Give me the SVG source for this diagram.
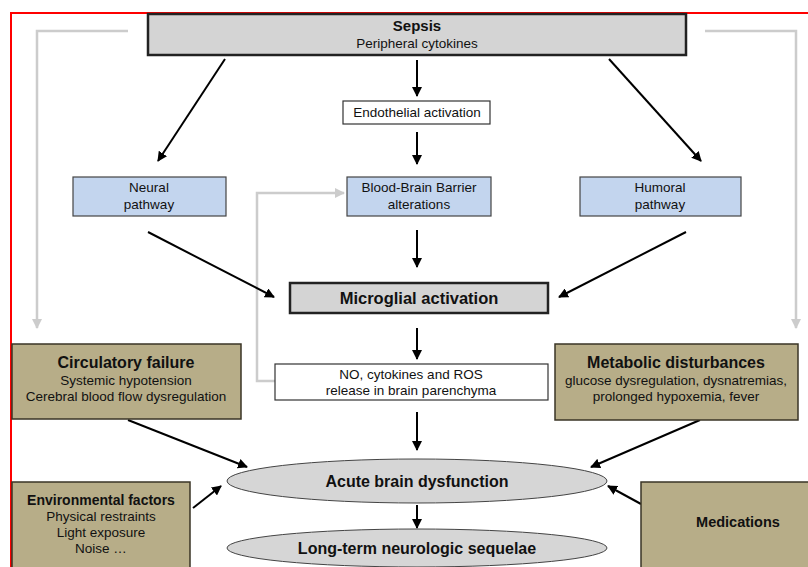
<svg xmlns="http://www.w3.org/2000/svg" width="808" height="567" viewBox="0 0 808 567">
<defs>
<marker id="ah" viewBox="0 0 10 10" refX="9" refY="5" markerWidth="5" markerHeight="5" orient="auto" markerUnits="strokeWidth">
<path d="M0,0 L10,5 L0,10 Z" fill="#000"/>
</marker>
<marker id="ahg" viewBox="0 0 10 10" refX="9" refY="5" markerWidth="4" markerHeight="4" orient="auto" markerUnits="strokeWidth">
<path d="M0,0 L10,5 L0,10 Z" fill="#cccccc"/>
</marker>
</defs>
<style>
text{font-family:"Liberation Sans",Arial,sans-serif;fill:#111;text-anchor:middle;font-size:13.5px}
.b{font-weight:bold;font-size:16px}
.gray{fill:#d4d4d4;stroke:#222;stroke-width:2.5}
.white{fill:#fff;stroke:#333;stroke-width:1.2}
.blue{fill:#c3d5ee;stroke:#444;stroke-width:1.2}
.olive{fill:#b7ad88;stroke:#3a3526;stroke-width:1.5}
.ell{fill:#d6d6d6;stroke:#444;stroke-width:1}
.c line,.c path{stroke:#000;stroke-width:2;fill:none;marker-end:url(#ah)}
.c .g{stroke:#cccccc;stroke-width:2.5;marker-end:url(#ahg)}
</style>
<rect width="808" height="567" fill="#fff"/>
<path d="M11,567 L11,13 L808,13" fill="none" stroke="#ff0000" stroke-width="2"/>
<g class="c" id="connectors">
<path class="g" d="M128,31 L37,31 L37,328"/>
<path class="g" d="M705,31 L796,31 L796,328"/>
<path class="g" d="M275,381 L257,381 L257,193 L344,193"/>
<line x1="417" y1="60" x2="417" y2="96"/>
<line x1="417" y1="132" x2="417" y2="164"/>
<line x1="225" y1="59" x2="158" y2="161"/>
<line x1="609" y1="59" x2="701" y2="161"/>
<line x1="148" y1="232" x2="274" y2="297"/>
<line x1="686" y1="232" x2="559" y2="297"/>
<line x1="417" y1="230" x2="417" y2="267"/>
<line x1="417" y1="328" x2="417" y2="359"/>
<line x1="417" y1="412" x2="417" y2="450"/>
<line x1="128" y1="420" x2="247" y2="467"/>
<line x1="700" y1="420" x2="591" y2="467"/>
<line x1="193" y1="508" x2="221" y2="486"/>
<line x1="641" y1="504" x2="608" y2="486"/>
<line x1="417" y1="505" x2="417" y2="528"/>
</g>
<g id="sepsis">
<rect class="gray" x="148" y="14" width="538" height="41"/>
<text class="b" x="417" y="31" style="font-size:15px">Sepsis</text>
<text x="417" y="48">Peripheral cytokines</text>
</g>
<g id="endothelial">
<rect class="white" x="343" y="101" width="147" height="23"/>
<text x="417" y="117">Endothelial activation</text>
</g>
<g id="neural">
<rect class="blue" x="73" y="177" width="153" height="39"/>
<text x="149" y="192">Neural</text>
<text x="149" y="209">pathway</text>
</g>
<g id="bbb">
<rect class="blue" x="347" y="177" width="144" height="39"/>
<text x="419" y="192">Blood-Brain Barrier</text>
<text x="419" y="209">alterations</text>
</g>
<g id="humoral">
<rect class="blue" x="580" y="177" width="161" height="39"/>
<text x="660" y="192">Humoral</text>
<text x="660" y="209">pathway</text>
</g>
<g id="microglial">
<rect class="gray" x="290" y="283" width="258" height="30"/>
<text class="b" x="419" y="304" style="font-size:16.5px">Microglial activation</text>
</g>
<g id="release">
<rect class="white" x="275" y="364" width="273" height="36"/>
<text x="411" y="379">NO, cytokines and ROS</text>
<text x="411" y="395">release in brain parenchyma</text>
</g>
<g id="circulatory">
<rect class="olive" x="12" y="344" width="229" height="75"/>
<text class="b" x="126" y="368">Circulatory failure</text>
<text x="126" y="385">Systemic hypotension</text>
<text x="126" y="401">Cerebral blood flow dysregulation</text>
</g>
<g id="metabolic">
<rect class="olive" x="555" y="344" width="243" height="76"/>
<text class="b" x="676" y="368">Metabolic disturbances</text>
<text x="676" y="385">glucose dysregulation, dysnatremias,</text>
<text x="676" y="401">prolonged hypoxemia, fever</text>
</g>
<g id="acute">
<ellipse class="ell" cx="417" cy="481" rx="190" ry="22"/>
<text class="b" x="417" y="487">Acute brain dysfunction</text>
</g>
<g id="environmental">
<rect class="olive" x="12" y="482" width="178" height="90"/>
<text class="b" x="101" y="505" style="font-size:14px">Environmental factors</text>
<text x="101" y="521">Physical restraints</text>
<text x="101" y="537">Light exposure</text>
<text x="101" y="553">Noise …</text>
</g>
<g id="medications">
<rect class="olive" x="641" y="482" width="172" height="90"/>
<text class="b" x="738" y="527" style="font-size:14.5px">Medications</text>
</g>
<g id="longterm">
<ellipse class="ell" cx="417" cy="548" rx="190" ry="19"/>
<text class="b" x="417" y="554">Long-term neurologic sequelae</text>
</g>
</svg>
